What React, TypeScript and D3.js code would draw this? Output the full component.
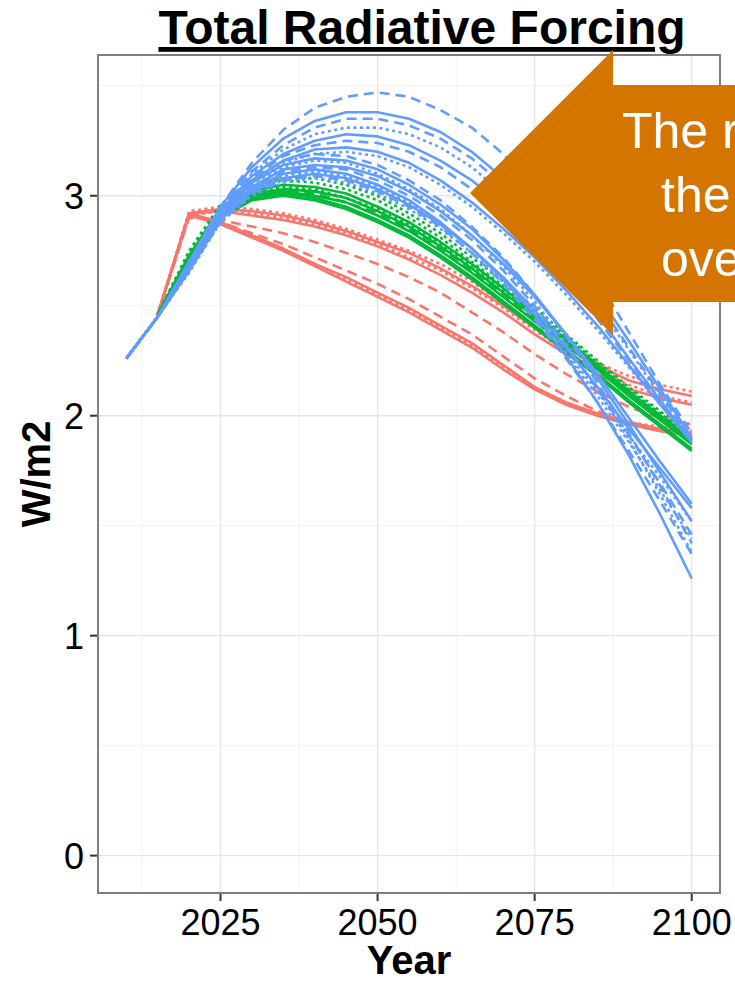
import * as d3 from 'd3'

// Years on the x axis (5-year steps)
const YEARS = [2010, 2015, 2020, 2025, 2030, 2035, 2040, 2045, 2050, 2055, 2060, 2065, 2070, 2075, 2080, 2085, 2090, 2095, 2100]

const X_TICKS = [2025, 2050, 2075, 2100]
const X_MINOR = [2012.5, 2037.5, 2062.5, 2087.5]
const Y_TICKS = [0, 1, 2, 3]
const Y_MINOR = [0.5, 1.5, 2.5, 3.5]

type V = number | null

// red scenarios (start 2015)
const redSeries: V[][] = [
  [null, 2.46, 2.93, 2.95, 2.94, 2.92, 2.89, 2.85, 2.80, 2.75, 2.69, 2.61, 2.51, 2.41, 2.32, 2.24, 2.18, 2.14, 2.11],
  [null, 2.46, 2.92, 2.94, 2.93, 2.91, 2.88, 2.84, 2.79, 2.74, 2.67, 2.59, 2.50, 2.40, 2.31, 2.23, 2.16, 2.12, 2.09],
  [null, 2.46, 2.91, 2.93, 2.92, 2.90, 2.87, 2.83, 2.78, 2.72, 2.66, 2.58, 2.49, 2.39, 2.29, 2.21, 2.14, 2.09, 2.06],
  [null, 2.46, 2.92, 2.93, 2.91, 2.89, 2.86, 2.82, 2.77, 2.71, 2.64, 2.56, 2.47, 2.37, 2.28, 2.19, 2.12, 2.08, 2.05],
  [null, 2.46, 2.90, 2.89, 2.86, 2.83, 2.79, 2.74, 2.69, 2.63, 2.56, 2.47, 2.38, 2.28, 2.19, 2.11, 2.04, 1.99, 1.96],
  [null, 2.46, 2.91, 2.88, 2.83, 2.78, 2.72, 2.66, 2.60, 2.53, 2.45, 2.37, 2.27, 2.17, 2.09, 2.02, 1.97, 1.94, 1.92],
  [null, 2.46, 2.92, 2.88, 2.82, 2.76, 2.69, 2.63, 2.56, 2.49, 2.41, 2.33, 2.23, 2.13, 2.06, 2.01, 1.97, 1.94, 1.92],
  [null, 2.46, 2.91, 2.87, 2.81, 2.75, 2.68, 2.61, 2.54, 2.47, 2.39, 2.31, 2.21, 2.12, 2.05, 2.00, 1.96, 1.93, 1.91],
  [null, 2.46, 2.92, 2.88, 2.82, 2.75, 2.69, 2.62, 2.55, 2.48, 2.40, 2.32, 2.22, 2.13, 2.06, 2.01, 1.97, 1.95, 1.93],
]
const redTypes = ['dotted', 'solid', 'dotted', 'solid', 'dashed', 'dashed', 'solid', 'solid', 'dotted']

// green scenarios (start 2015)
const greenSeries: V[][] = [
  [null, 2.46, 2.75, 2.96, 3.05, 3.08, 3.08, 3.05, 3.00, 2.92, 2.83, 2.72, 2.61, 2.49, 2.37, 2.25, 2.13, 2.02, 1.91],
  [null, 2.46, 2.74, 2.95, 3.04, 3.07, 3.06, 3.03, 2.98, 2.90, 2.81, 2.70, 2.59, 2.47, 2.36, 2.24, 2.12, 2.01, 1.90],
  [null, 2.46, 2.73, 2.94, 3.02, 3.05, 3.04, 3.01, 2.95, 2.88, 2.79, 2.69, 2.58, 2.46, 2.35, 2.23, 2.11, 2.00, 1.89],
  [null, 2.46, 2.72, 2.93, 3.01, 3.03, 3.02, 2.99, 2.93, 2.86, 2.77, 2.67, 2.56, 2.45, 2.34, 2.22, 2.10, 1.99, 1.88],
  [null, 2.46, 2.72, 2.92, 3.00, 3.02, 3.00, 2.97, 2.91, 2.84, 2.75, 2.65, 2.54, 2.43, 2.32, 2.21, 2.09, 1.98, 1.87],
  [null, 2.46, 2.71, 2.92, 3.00, 3.02, 3.01, 2.97, 2.92, 2.85, 2.76, 2.66, 2.55, 2.44, 2.33, 2.22, 2.11, 2.00, 1.90],
  [null, 2.46, 2.71, 2.91, 2.99, 3.01, 2.99, 2.95, 2.89, 2.82, 2.73, 2.63, 2.52, 2.41, 2.30, 2.19, 2.07, 1.96, 1.85],
  [null, 2.46, 2.73, 2.93, 3.01, 3.04, 3.03, 2.99, 2.94, 2.87, 2.78, 2.68, 2.57, 2.45, 2.34, 2.23, 2.11, 2.00, 1.89],
  [null, 2.46, 2.70, 2.90, 2.98, 3.00, 2.98, 2.94, 2.88, 2.81, 2.72, 2.62, 2.51, 2.40, 2.29, 2.18, 2.06, 1.95, 1.84],
]
const greenTypes = ['dotted', 'dotted', 'solid', 'solid', 'solid', 'dashed', 'solid', 'dotted', 'solid']

// blue scenarios (start 2010)
const blueSeries: V[][] = [
  [2.26, 2.45, 2.70, 2.95, 3.15, 3.30, 3.40, 3.45, 3.47, 3.45, 3.39, 3.31, 3.19, 3.04, 2.85, 2.62, 2.38, 2.14, 1.92],
  [2.26, 2.45, 2.70, 2.95, 3.13, 3.26, 3.34, 3.38, 3.38, 3.35, 3.29, 3.20, 3.08, 2.93, 2.75, 2.55, 2.34, 2.12, 1.90],
  [2.26, 2.45, 2.69, 2.94, 3.11, 3.23, 3.31, 3.35, 3.35, 3.32, 3.26, 3.17, 3.05, 2.90, 2.72, 2.52, 2.31, 2.10, 1.89],
  [2.26, 2.45, 2.69, 2.93, 3.10, 3.21, 3.28, 3.31, 3.31, 3.28, 3.22, 3.13, 3.01, 2.87, 2.70, 2.50, 2.30, 2.09, 1.90],
  [2.26, 2.45, 2.69, 2.93, 3.09, 3.19, 3.25, 3.28, 3.27, 3.23, 3.16, 3.07, 2.95, 2.81, 2.64, 2.46, 2.26, 2.07, 1.88],
  [2.26, 2.45, 2.68, 2.92, 3.08, 3.18, 3.23, 3.25, 3.24, 3.20, 3.13, 3.03, 2.91, 2.77, 2.61, 2.44, 2.25, 2.06, 1.89],
  [2.26, 2.45, 2.68, 2.92, 3.07, 3.16, 3.21, 3.22, 3.20, 3.15, 3.07, 2.97, 2.85, 2.72, 2.57, 2.41, 2.23, 2.05, 1.88],
  [2.26, 2.45, 2.68, 2.92, 3.07, 3.15, 3.19, 3.20, 3.18, 3.13, 3.05, 2.95, 2.83, 2.70, 2.55, 2.39, 2.22, 2.05, 1.89],
  [2.26, 2.45, 2.68, 2.92, 3.07, 3.16, 3.19, 3.18, 3.14, 3.07, 2.98, 2.86, 2.72, 2.55, 2.36, 2.15, 1.92, 1.68, 1.42],
  [2.26, 2.45, 2.67, 2.91, 3.06, 3.14, 3.17, 3.16, 3.12, 3.05, 2.96, 2.85, 2.71, 2.55, 2.37, 2.17, 1.96, 1.74, 1.52],
  [2.26, 2.45, 2.67, 2.91, 3.05, 3.13, 3.16, 3.15, 3.10, 3.03, 2.94, 2.82, 2.68, 2.52, 2.33, 2.12, 1.89, 1.64, 1.38],
  [2.26, 2.45, 2.67, 2.90, 3.04, 3.12, 3.14, 3.13, 3.09, 3.02, 2.93, 2.82, 2.69, 2.54, 2.37, 2.19, 1.99, 1.79, 1.60],
  [2.26, 2.45, 2.67, 2.90, 3.04, 3.11, 3.13, 3.12, 3.07, 3.00, 2.91, 2.80, 2.66, 2.50, 2.32, 2.12, 1.91, 1.69, 1.46],
  [2.26, 2.45, 2.66, 2.89, 3.03, 3.10, 3.12, 3.10, 3.05, 2.98, 2.88, 2.76, 2.62, 2.46, 2.27, 2.06, 1.82, 1.55, 1.26],
  [2.26, 2.45, 2.66, 2.89, 3.02, 3.09, 3.11, 3.09, 3.04, 2.97, 2.87, 2.76, 2.62, 2.46, 2.28, 2.09, 1.88, 1.66, 1.44],
  [2.26, 2.45, 2.66, 2.89, 3.02, 3.08, 3.10, 3.08, 3.03, 2.96, 2.87, 2.76, 2.63, 2.48, 2.31, 2.13, 1.94, 1.76, 1.58],
  [2.26, 2.45, 2.66, 2.88, 3.01, 3.07, 3.09, 3.07, 3.02, 2.95, 2.86, 2.74, 2.60, 2.44, 2.26, 2.06, 1.84, 1.61, 1.37],
  [2.26, 2.45, 2.65, 2.88, 3.00, 3.06, 3.08, 3.06, 3.01, 2.94, 2.85, 2.74, 2.61, 2.46, 2.29, 2.11, 1.91, 1.72, 1.52],
]
const blueTypes = ['dashed', 'solid', 'dashed', 'dotted', 'solid', 'dashed', 'solid', 'dotted',
  'dashed', 'solid', 'dotted', 'solid', 'dashed', 'solid', 'dotted', 'solid', 'dashed', 'dotted']

// callout text (clipped by the right edge, as in the original slide)
const CALLOUT_LINES = ['The rate of', 'the decline', 'overshoot']

const W = 735
const H = 983
const FONT = 'Liberation Sans, Arial, Helvetica, sans-serif'
const dash: Record<string, string | undefined> = { solid: undefined, dashed: '10,6', dotted: '3,3.5' }

export default function App() {
  const margin = { left: 98, right: 15, top: 55, bottom: 90 }

  const x = d3.scaleLinear()
    .domain([2005.5, 2104.5])
    .range([margin.left, W - margin.right])

  const y = d3.scaleLinear()
    .domain([-0.17, 3.64])
    .range([H - margin.bottom, margin.top])

  const line = d3.line<V>()
    .defined(d => d !== null)
    .x((_, i) => x(YEARS[i]))
    .y(d => y(d as number))

  const groups = [
    { color: '#F8766D', series: redSeries, types: redTypes },
    { color: '#00BA38', series: greenSeries, types: greenTypes },
    { color: '#619CFF', series: blueSeries, types: blueTypes },
  ]

  const [x0, x1] = x.range()
  const [y0, y1] = y.range()

  return (
    <svg width={W} height={H} style={{ position: 'absolute', left: 0, top: 0, display: 'block', background: '#fff' }}>
      {/* panel grid */}
      <rect x={x0} y={y1} width={x1 - x0} height={y0 - y1} fill="#fff" />
      {X_MINOR.map(t => (
        <line key={'xm' + t} x1={x(t)} x2={x(t)} y1={y1} y2={y0} stroke="#f2f2f2" strokeWidth={1} />
      ))}
      {Y_MINOR.map(t => (
        <line key={'ym' + t} x1={x0} x2={x1} y1={y(t)} y2={y(t)} stroke="#f2f2f2" strokeWidth={1} />
      ))}
      {X_TICKS.map(t => (
        <line key={'xg' + t} x1={x(t)} x2={x(t)} y1={y1} y2={y0} stroke="#e6e6e6" strokeWidth={1.4} />
      ))}
      {Y_TICKS.map(t => (
        <line key={'yg' + t} x1={x0} x2={x1} y1={y(t)} y2={y(t)} stroke="#e6e6e6" strokeWidth={1.4} />
      ))}

      {/* scenario lines */}
      {groups.map(g => (
        <g key={g.color}>
          {g.series.map((s, i) => (
            <path
              key={i}
              d={line(s) || ''}
              fill="none"
              stroke={g.color}
              strokeWidth={2.6}
              strokeDasharray={dash[g.types[i]]}
              strokeLinejoin="round"
            />
          ))}
        </g>
      ))}

      {/* panel border */}
      <rect x={x0} y={y1} width={x1 - x0} height={y0 - y1} fill="none" stroke="#7f7f7f" strokeWidth={2} />

      {/* axes ticks and labels */}
      {X_TICKS.map(t => (
        <g key={'xt' + t}>
          <line x1={x(t)} x2={x(t)} y1={y0 + 1} y2={y0 + 8} stroke="#333" strokeWidth={2} />
          <text x={x(t)} y={935} textAnchor="middle" fontFamily={FONT} fontSize={36} fill="#000">{t}</text>
        </g>
      ))}
      {Y_TICKS.map(t => (
        <g key={'yt' + t}>
          <line x1={x0 - 8} x2={x0 - 1} y1={y(t)} y2={y(t)} stroke="#333" strokeWidth={2} />
          <text x={84} y={y(t)} dy="0.36em" textAnchor="end" fontFamily={FONT} fontSize={36} fill="#000">{t}</text>
        </g>
      ))}

      <text x={(x0 + x1) / 2} y={974} textAnchor="middle" fontFamily={FONT} fontSize={40} fontWeight="bold" fill="#000">Year</text>
      <text transform={`translate(50, ${(y0 + y1) / 2}) rotate(-90)`} textAnchor="middle" fontFamily={FONT} fontSize={40} fontWeight="bold" fill="#000">W/m2</text>

      {/* title */}
      <text x={422} y={44} textAnchor="middle" fontFamily={FONT} fontSize={48} fontWeight="bold" fill="#000" textDecoration="underline">Total Radiative Forcing</text>

      {/* callout arrow */}
      <polygon points="470,193 613,50 613,85 760,85 760,302 613,302 613,335" fill="#D47500" />
      {CALLOUT_LINES.map((s, i) => (
        <text key={s} x={i === 0 ? 622 : 661} y={148 + i * 64} fontFamily={FONT} fontSize={50} fill="#fff">{s}</text>
      ))}
    </svg>
  )
}
